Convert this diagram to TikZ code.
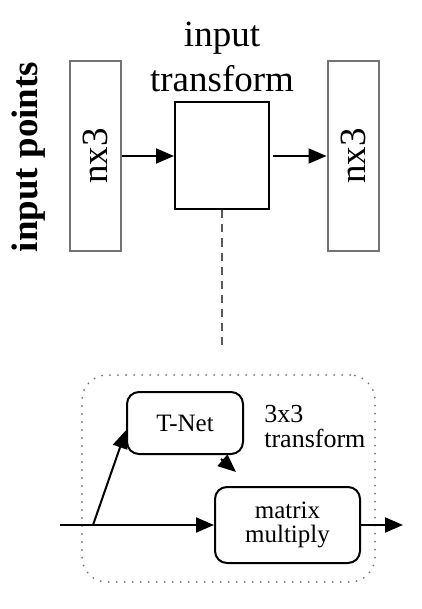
\documentclass[tikz,border=0pt]{standalone}
\usepackage{fontspec}
\setmainfont{Liberation Serif}
\usetikzlibrary{positioning, arrows.meta, calc}

\begin{document}
\begin{tikzpicture}[
    x=1pt, y=-1pt,
    line width=2pt,
    >={Triangle[length=18pt, width=15pt]},
    bigtext/.style={font=\fontsize{37}{45}\selectfont},
    smalltext/.style={font=\fontsize{25}{24}\selectfont},
    layer/.style={draw=black!55, rectangle, rotate=90, inner sep=0pt,
        minimum width=189pt, minimum height=51pt, bigtext},
    block/.style={draw, rectangle, rounded corners=12pt, inner sep=0pt, smalltext}
]
    \useasboundingbox (0,0) rectangle (421,609);
    % top row: input points, transform box, transformed points
    \node[rotate=90, font=\fontsize{37}{45}\selectfont\bfseries] (inlabel) at (29,157) {input points};
    \node[layer] (pin) at (95.5,156) {nx3};
    \node[draw, rectangle, inner sep=0pt, minimum width=94pt, minimum height=107pt] (tbox) at (222,156) {};
    \node[bigtext, align=center] (ttitle) at (222,57) {input\\transform};
    \node[layer] (pout) at (353,156) {nx3};
    \coordinate (dashend) at (222,348);

    \draw[->] (pin) -- (tbox);
    \draw[->, shorten <=3pt] (tbox) -- (pout);
    \draw[black!65, line width=1.5pt, dash pattern=on 8pt off 6pt] (tbox.south) -- (dashend);

    % zoomed view: T-Net and matrix multiply
    \node[draw=black!55, line cap=round, dash pattern=on 0pt off 8pt, rounded corners=25pt,
        minimum width=293pt, minimum height=207pt] (tgroup) at (228.5,478.5) {};
    \node[block, minimum width=116pt, minimum height=62pt] (tnet) at (185,423) {T-Net};
    \node[block, align=center, minimum width=145pt, minimum height=76pt] (mm) at (287.5,525) {matrix\\multiply};
    \node[font=\fontsize{26}{25}\selectfont, align=left, anchor=north west] (tlabel) at (260,401) {3x3\\transform};
    \coordinate (start) at (60,525);
    \coordinate (split) at (93,525);
    \coordinate (finish) at (403,525);

    \draw[->] (start) -- (mm);
    \draw[->] (split) -- (tnet.187);
    \draw[->] ($(tnet.south)+(36,4)$) -- ($(mm.north)+(-51.5,-14)$);
    \draw[->] (mm) -- (finish);
\end{tikzpicture}
\end{document}
